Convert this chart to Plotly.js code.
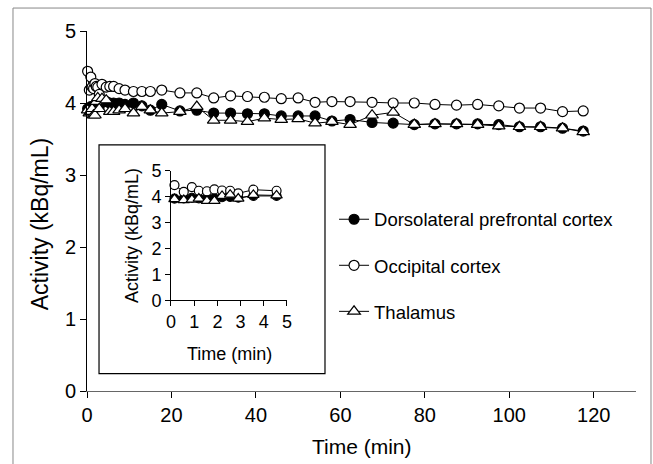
<!DOCTYPE html>
<html>
<head>
<meta charset="utf-8">
<script src="https://cdn.plot.ly/plotly-3.0.1.min.js"></script>
<style>
html,body{margin:0;padding:0;background:#fff;}
#chart{width:653px;height:464px;}
</style>
</head>
<body>
<div id="chart"></div>
<script>
// Frame mid-times (min)
const timeMin = [0.15, 0.55, 0.9, 1.2, 1.55, 1.87, 2.2, 2.55, 2.9, 3.55, 4.55,
  5.4, 6.3, 7.6, 9, 11, 13, 15, 17.7, 22, 26, 30, 34, 38, 42, 46, 50, 54, 58,
  62.3, 67.5, 72.5, 77.5, 82.4, 87.5, 92.5, 97.5, 102.4, 107.4, 112.6, 117.5];

const dlpfc = [3.92, 3.93, 3.95, 3.93, 3.92, 3.93, 3.97, 3.98, 3.95, 4.02, 4.02,
  4.0, 4.0, 4.0, 3.98, 4.0, 3.96, 3.90, 3.98, 3.89, 3.90, 3.86, 3.86, 3.85, 3.85, 3.82, 3.82, 3.82, 3.75,
  3.77, 3.73, 3.72, 3.70, 3.71, 3.71, 3.71, 3.70, 3.67, 3.67, 3.65, 3.61];

const occipital = [4.44, 4.18, 4.36, 4.22, 4.20, 4.27, 4.23, 4.22, 4.12, 4.26, 4.22,
  4.23, 4.23, 4.20, 4.18, 4.16, 4.16, 4.16, 4.18, 4.14, 4.14, 4.07, 4.10, 4.09, 4.08, 4.06, 4.07, 4.01, 4.02,
  4.02, 4.01, 4.00, 4.00, 3.98, 3.97, 3.98, 3.96, 3.93, 3.93, 3.88, 3.89];

const thalamus = [3.90, 3.86, 3.88, 3.92, 3.83, 3.83, 4.02, 4.07, 3.92, 4.06, 4.04,
  3.88, 3.88, 3.90, 3.92, 3.86, 3.95, 3.90, 3.86, 3.88, 3.95, 3.76, 3.76, 3.74, 3.79, 3.77, 3.78, 3.72, 3.74,
  3.70, 3.83, 3.87, 3.70, 3.71, 3.71, 3.70, 3.68, 3.67, 3.67, 3.65, 3.60];

const seriesNames = ["Dorsolateral prefrontal cortex", "Occipital cortex", "Thalamus"];
const xTicksMain = [0, 20, 40, 60, 80, 100, 120];
const yTicks = [0, 1, 2, 3, 4, 5];
const xTicksInset = [0, 1, 2, 3, 4, 5];
const insetMax = 5;
const xTitle = "Time (min)";
const yTitle = "Activity (kBq/mL)";

const FONT = "Liberation Sans, Arial, Helvetica, sans-serif";
function f(size) { return {family: FONT, size: size, color: "#000", weight: 400}; }

function styleFor(i, small) {
  const sz = small ? 9 : 10;
  const symbols = ["circle", "circle", "triangle-up"];
  const fills = ["#000", "#fff", "#fff"];
  return {
    mode: "lines+markers",
    line: {color: "#000", width: 1},
    marker: {symbol: symbols[i], size: i === 2 ? sz + 1 : sz, color: fills[i],
             line: {color: "#000", width: 1.2}}
  };
}

const seriesVals = [dlpfc, occipital, thalamus];
const traces = [];
seriesVals.forEach((vals, i) => {
  traces.push(Object.assign({
    x: timeMin, y: vals, name: seriesNames[i], xaxis: "x", yaxis: "y",
    legendgroup: "g" + i, showlegend: true, cliponaxis: false
  }, styleFor(i, false)));
});
const insetIdx = timeMin.map((t, k) => t <= insetMax ? k : -1).filter(k => k >= 0);
seriesVals.forEach((vals, i) => {
  traces.push(Object.assign({
    x: insetIdx.map(k => timeMin[k]), y: insetIdx.map(k => vals[k]),
    name: seriesNames[i], xaxis: "x2", yaxis: "y2",
    legendgroup: "g" + i, showlegend: false, cliponaxis: false
  }, styleFor(i, true)));
});

const layout = {
  width: 653, height: 464,
  margin: {l: 87, r: 17, t: 31, b: 72.5},
  paper_bgcolor: "#fff", plot_bgcolor: "rgba(0,0,0,0)",
  font: f(17),
  showlegend: true,
  legend: {
    x: 0.45, y: 0.348, xanchor: "left", yanchor: "middle",
    font: f(18.5),
    bgcolor: "rgba(0,0,0,0)", borderwidth: 0,
    traceorder: "grouped", tracegroupgap: 19, itemwidth: 30
  },
  xaxis: {
    domain: [0, 1], range: [0, 130], tickvals: xTicksMain, ticktext: xTicksMain.map(String),
    showgrid: false, zeroline: false, showline: true, linecolor: "#666", linewidth: 1,
    ticks: "outside", ticklen: 6, tickcolor: "#000", tickfont: f(20)
  },
  yaxis: {
    domain: [0, 1], range: [0, 5], tickvals: yTicks, ticktext: yTicks.map(String),
    showgrid: false, zeroline: false, showline: true, linecolor: "#000", linewidth: 1,
    ticks: "outside", ticklen: 6, tickcolor: "#000", tickfont: f(20)
  },
  xaxis2: {
    domain: [0.153, 0.3643], anchor: "y2", range: [0, 5], tickvals: xTicksInset, ticktext: xTicksInset.map(String),
    showgrid: false, zeroline: false, showline: true, linecolor: "#000", linewidth: 1,
    ticks: "outside", ticklen: 5, tickcolor: "#000", tickfont: f(18)
  },
  yaxis2: {
    domain: [0.2519, 0.6125], anchor: "x2", range: [0, 5], tickvals: yTicks, ticktext: yTicks.map(String),
    showgrid: false, zeroline: false, showline: true, linecolor: "#000", linewidth: 1,
    ticks: "outside", ticklen: 5, tickcolor: "#000", tickfont: f(18),
    title: {text: yTitle, font: f(18), standoff: 8}
  },
  annotations: [
    {text: yTitle, xref: "paper", yref: "paper", x: -0.0856, y: 0.463, xanchor: "center", yanchor: "middle",
     textangle: -90, showarrow: false, font: f(23)},
    {text: xTitle, xref: "paper", yref: "paper", x: 0.5, y: -0.155, xanchor: "center", yanchor: "middle",
     showarrow: false, font: f(21)},
    {text: xTitle, xref: "paper", yref: "paper", x: 0.2587, y: 0.104, xanchor: "center", yanchor: "middle",
     showarrow: false, font: f(18)}
  ],
  shapes: [
    {type: "rect", xref: "paper", yref: "paper", x0: 0.0219, x1: 0.4335, y0: 0.0485, y1: 0.6838,
     line: {color: "#000", width: 1.2}, fillcolor: "rgba(0,0,0,0)", layer: "above"},
    {type: "rect", xref: "paper", yref: "paper", x0: -0.1348, x1: 1.0273, y0: -0.25, y1: 1.0638,
     line: {color: "#888", width: 1}, fillcolor: "rgba(0,0,0,0)", layer: "above"}
  ]
};

Plotly.newPlot("chart", traces, layout, {staticPlot: true, displayModeBar: false});
</script>
</body>
</html>
